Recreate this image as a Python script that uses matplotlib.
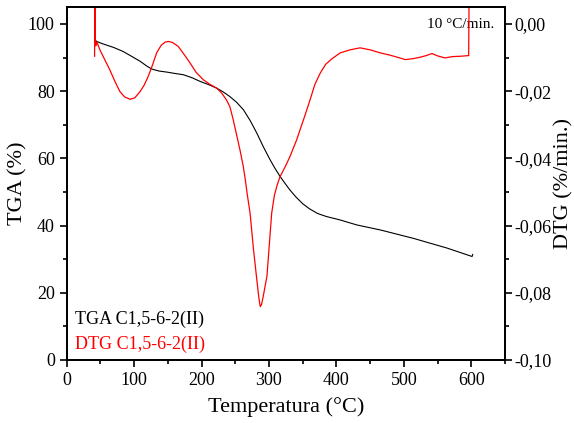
import matplotlib.pyplot as plt
from matplotlib.ticker import MultipleLocator, FuncFormatter

plt.rcParams['font.family'] = ['Liberation Serif', 'DejaVu Serif']

# TGA curve (%)
tga_temp = [42, 42.5, 44.5, 55, 70, 84, 97, 109, 118, 126, 137, 148, 160, 173,
            186, 198, 210, 222.5, 232, 242, 252, 262, 272, 282, 292, 301.6, 309,
            316.5, 324, 331, 340, 350, 360, 372, 385, 405, 430, 465, 514, 564,
            601, 602]
tga_val = [97.5, 95.2, 94.8, 94.0, 93.0, 91.8, 90.3, 88.9, 87.6, 86.6, 86.0, 85.7,
           85.3, 84.9, 84.0, 82.9, 82.0, 80.9, 79.8, 78.4, 76.7, 74.5, 71.3, 67.5,
           63.3, 59.6, 57.0, 54.6, 52.5, 50.6, 48.5, 46.5, 45.0, 43.6, 42.7, 41.7,
           40.2, 38.7, 36.2, 33.3, 30.8, 31.4]

# DTG curve (%/min.)
dtg_temp = [41.5, 42, 42.5, 43.5, 45, 49.4, 57, 64, 71, 79, 86, 94, 101, 109,
            115, 121, 127, 133.5, 140, 146, 151, 157, 165.6, 174, 183, 192, 202.7,
            212, 222.5, 230, 237, 242, 247, 252, 257, 262, 264.5, 268, 272, 277,
            282, 285, 287, 289, 292, 297, 300, 304, 308, 312, 316.5, 324, 331,
            341, 346, 352, 361, 368, 376, 384, 393, 405.5, 420, 435, 450, 465,
            480, 492, 502, 514, 524, 533, 541.5, 550, 561, 572, 584, 596, 596.5]
dtg_val = [-0.0096, 0.0060, -0.0040, -0.0065, -0.0054, -0.0077, -0.0108, -0.0136,
           -0.0168, -0.0201, -0.0217, -0.0224, -0.0220, -0.0201, -0.0182, -0.0156,
           -0.0124, -0.0086, -0.0064, -0.0054, -0.0052, -0.0055, -0.0067, -0.0090,
           -0.0116, -0.0144, -0.0166, -0.0179, -0.0191, -0.0206, -0.0226, -0.0246,
           -0.0285, -0.0330, -0.0375, -0.0425, -0.0458, -0.0510, -0.0563, -0.0670,
           -0.0762, -0.0815, -0.0841, -0.0835, -0.0805, -0.0750, -0.0670, -0.0563,
           -0.0510, -0.0480, -0.0454, -0.0425, -0.0395, -0.0345, -0.0315, -0.0280,
           -0.0225, -0.0180, -0.0146, -0.0120, -0.0104, -0.0086, -0.0077, -0.0071,
           -0.0077, -0.0086, -0.0093, -0.0100, -0.0106, -0.0103, -0.0099, -0.0094,
           -0.0088, -0.0095, -0.0101, -0.0097, -0.0096, -0.0094, 0.0060]

fig = plt.figure(figsize=(5.74, 4.23), dpi=100)
ax1 = fig.add_axes([0.116, 0.149, 0.764, 0.834])
ax2 = ax1.twinx()

ax1.plot(tga_temp, tga_val, color='black', linewidth=0.8)
ax2.plot(dtg_temp, dtg_val, color='red', linewidth=0.9)

ax1.set_xlim(0, 650)
ax1.set_ylim(0, 105)
ax2.set_ylim(-0.10, 0.005)

ax1.xaxis.set_major_locator(MultipleLocator(100))
ax1.xaxis.set_minor_locator(MultipleLocator(50))
ax1.yaxis.set_major_locator(MultipleLocator(20))
ax1.yaxis.set_minor_locator(MultipleLocator(10))
ax2.yaxis.set_major_locator(MultipleLocator(0.02))
ax2.yaxis.set_minor_locator(MultipleLocator(0.01))
ax2.yaxis.set_major_formatter(FuncFormatter(lambda v, p: f'{v:.2f}'.replace('.', ',').replace('-0,00', '0,00')))

for ax in (ax1, ax2):
    ax.tick_params(which='major', direction='out', length=5, width=1.2, labelsize=13)
    ax.tick_params(which='minor', direction='out', length=3, width=1.2)
    for s in ax.spines.values():
        s.set_linewidth(1.3)
ax2.tick_params(which='major', pad=1.5)

ax1.set_xlabel('Temperatura (°C)', fontsize=16, labelpad=6)
ax1.set_ylabel('TGA (%)', fontsize=16, labelpad=0)
ax2.set_ylabel('DTG (%/min.)', fontsize=16, labelpad=2)

ax1.text(0.975, 0.95, '10 °C/min.', transform=ax1.transAxes, ha='right', va='center', fontsize=11)
ax1.text(0.02, 0.115, 'TGA C1,5-6-2(II)', transform=ax1.transAxes, ha='left', va='center',
         fontsize=13, color='black')
ax1.text(0.02, 0.045, 'DTG C1,5-6-2(II)', transform=ax1.transAxes, ha='left', va='center',
         fontsize=13, color='red')

plt.savefig('out.png', dpi=100)
